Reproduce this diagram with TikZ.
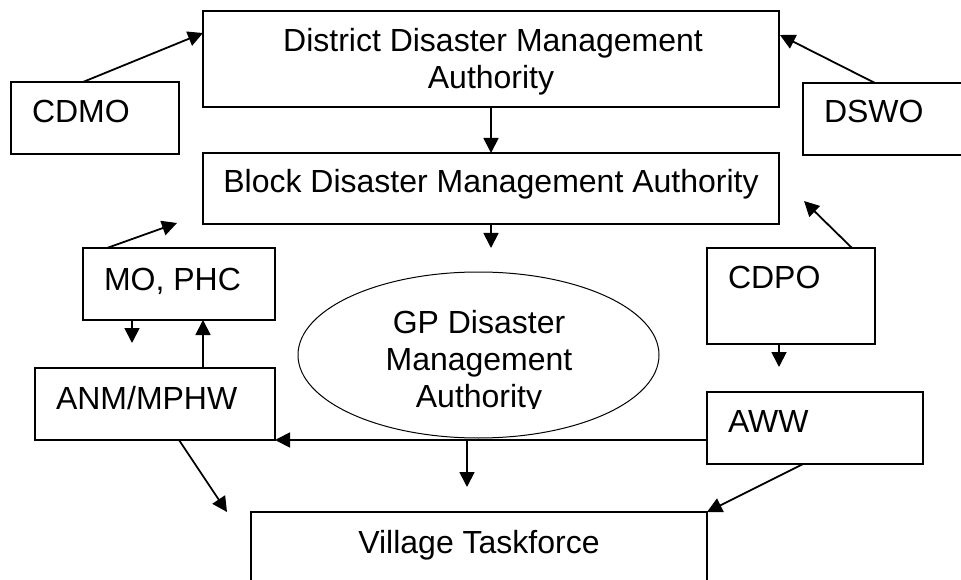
\documentclass[tikz,border=0pt]{standalone}
\usepackage{fontspec}
\setmainfont{Liberation Sans}
\usetikzlibrary{arrows.meta,calc,shapes.geometric}
\begin{document}
\begin{tikzpicture}[x=1pt,y=-1pt,
  box/.style={draw, line width=1.3pt, rectangle, anchor=north west, inner sep=0pt, outer sep=0pt},
  txt/.style={inner sep=0pt, outer sep=0pt, font=\fontsize{32}{37}\selectfont},
  arr/.style={line width=1.8pt, -{Triangle[length=15pt,width=15pt]}}]
\clip (0,0) rectangle (961,580);
\fill[white] (0,0) rectangle (961,580);

% boxes
\node[box, minimum width=576pt, minimum height=96pt] (dist) at (203,11) {};
\node[box, minimum width=168pt, minimum height=72pt] (cdmo) at (11,82) {};
\node[box, minimum width=200pt, minimum height=72pt] (dswo) at (803,83) {};
\node[box, minimum width=576pt, minimum height=71pt] (block) at (203,153) {};
\node[box, minimum width=192pt, minimum height=72pt] (mo) at (83,248) {};
\node[box, minimum width=168pt, minimum height=96pt] (cdpo) at (707,248) {};
\node[box, minimum width=240pt, minimum height=72pt] (anm) at (35,368) {};
\node[box, minimum width=216pt, minimum height=72pt] (aww) at (707,392) {};
\node[box, minimum width=456pt, minimum height=100pt] (vil) at (251,512) {};
\node[draw, ellipse, line width=1pt, inner sep=0pt, minimum width=361pt, minimum height=166pt] (gp) at (478.5,355) {};

% texts
\node[txt, anchor=base] (distT1) at (493,52) {District Disaster Management};
\node[txt, anchor=base] (distT2) at (491,89) {Authority};
\node[txt, anchor=base west] (cdmoT) at (32,123) {CDMO};
\node[txt, anchor=base west] (dswoT) at (824,123) {DSWO};
\node[txt, anchor=base] (blockT) at (491,193) {Block Disaster Management Authority};
\node[txt, anchor=base west] (moT) at (104,290) {MO, PHC};
\node[txt, anchor=base west] (cdpoT) at (728,288) {CDPO};
\node[txt, anchor=base west] (anmT) at (56,409) {ANM/MPHW};
\node[txt, anchor=base west] (awwT) at (728,432) {AWW};
\node[txt, anchor=base] (gp1) at (479,333) {GP Disaster};
\node[txt, anchor=base] (gp2) at (479,370) {Management};
\begin{scope}
\clip (298,380) rectangle (660,408);
\node[txt, anchor=base] (gp3) at (479,407) {Authority};
\end{scope}
\node[txt, anchor=base] (vilT) at (479,553) {Village Taskforce};

% free ends
\coordinate (moTip) at (177,223);
\coordinate (cdpoTip) at (804,201);
\coordinate (gpTip) at (491,248);
\coordinate (moDownTip) at (132,343);
\coordinate (cdpoDownTip) at (779,367);
\coordinate (lineJoin) at (467,440);
\coordinate (vilTip) at (467,487);
\coordinate (anmTip) at (227,512);

% connectors
\draw[arr] ($(cdmo.north west)+(72,0)$) -- ($(dist.north west)+(0,22)$);
\draw[arr] ($(dswo.north west)+(72,0)$) -- ($(dist.north east)+(1,24)$);
\draw[arr] (dist.south) -- (block.north);
\draw[arr] ($(mo.north west)+(24,0)$) -- (moTip);
\draw[arr] ($(cdpo.north west)+(145,0)$) -- (cdpoTip);
\draw[arr] (block.south) -- (gpTip);
\draw[arr] ($(mo.south west)+(49,0)$) -- (moDownTip);
\draw[arr] ($(anm.north west)+(168,0)$) -- ($(mo.south west)+(120,0)$);
\draw[arr] ($(cdpo.south west)+(72,0)$) -- (cdpoDownTip);
\draw[arr] ($(aww.north west)+(0,48)$) -- (anm.south east);
\draw[arr] (lineJoin) -- (vilTip);
\draw[arr] ($(anm.south west)+(144,0)$) -- (anmTip);
\draw[arr] ($(aww.south west)+(96,0)$) -- (vil.north east);
\end{tikzpicture}
\end{document}
